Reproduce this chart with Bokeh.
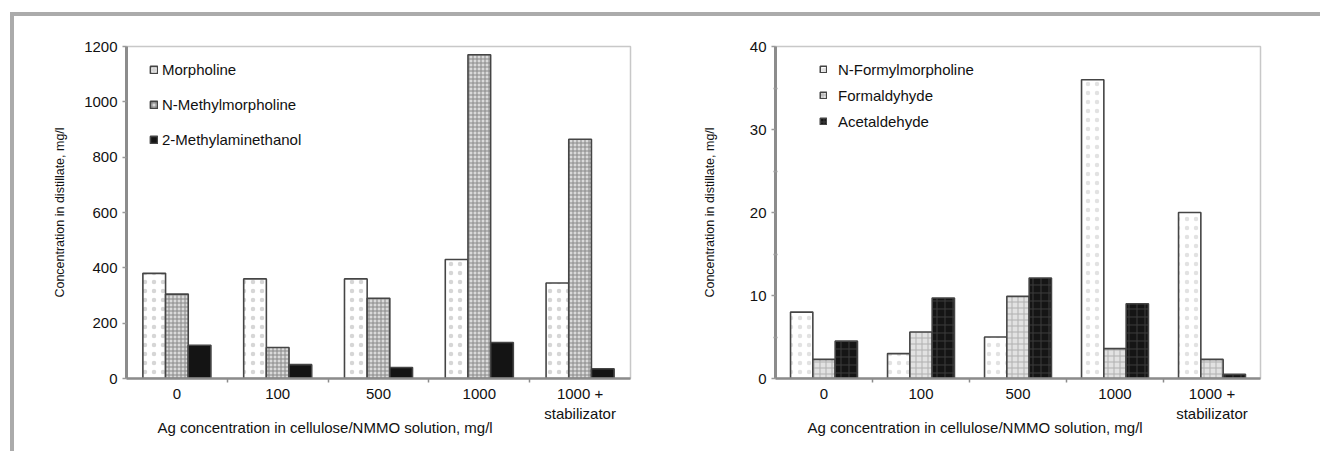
from bokeh.plotting import figure
from bokeh.models import Range1d, FixedTicker, Legend, LegendItem, Title, ColumnDataSource, Div
from bokeh.layouts import row, column
from bokeh.transform import dodge
from bokeh.embed import file_html
from bokeh.resources import INLINE

# ---------------- data ----------------
categories = ["0", "100", "500", "1000", "1000 +\nstabilizator"]

left_series = ["Morpholine", "N-Methylmorpholine", "2-Methylaminethanol"]
morpholine = [380, 360, 360, 430, 345]
n_methylmorpholine = [305, 112, 290, 1170, 865]
methylaminethanol = [120, 50, 40, 130, 35]
left_yticks = [0, 200, 400, 600, 800, 1000, 1200]

right_series = ["N-Formylmorpholine", "Formaldyhyde", "Acetaldehyde"]
n_formylmorpholine = [8.0, 3.0, 5.0, 36.0, 20.0]
formaldyhyde = [2.3, 5.6, 9.9, 3.6, 2.3]
acetaldehyde = [4.5, 9.7, 12.1, 9.0, 0.5]
right_yticks = [0, 10, 20, 30, 40]
right_yminor = [5, 15, 25, 35]

y_label = "Concentration in distillate, mg/l"
x_label = "Ag concentration in cellulose/NMMO solution, mg/l"

FONT = "Liberation Sans"
FRAME_GRAY = "#ababab"
H = 435

left_styles = [
    dict(fill_color="white", hatch_pattern="dot", hatch_color="#d6d6d6", hatch_scale=9, hatch_weight=1),
    dict(fill_color="#dadada", hatch_pattern="cross", hatch_color="#888888", hatch_scale=4, hatch_weight=1),
    dict(fill_color="#141414"),
]
right_styles = [
    dict(fill_color="white", hatch_pattern="dot", hatch_color="#e2e2e2", hatch_scale=9, hatch_weight=1),
    dict(fill_color="#e2e2e2", hatch_pattern="cross", hatch_color="#b0b0b0", hatch_scale=6, hatch_weight=1),
    dict(fill_color="#151515", hatch_pattern="cross", hatch_color="#3c3c3c", hatch_scale=8, hatch_weight=1),
]


def make_chart(series_names, series_values, styles, ymax, yticks, yminor, width,
               mb_left, mb_right, mb_top, frame_h, bar_w, legend_loc, legend_spacing,
               glyph_size, label_standoff, ylabel_standoff, xlabel_offset):
    pos = [i + 0.5 for i in range(len(categories))]
    data = dict(pos=pos)
    for k, vals in enumerate(series_values):
        data["s%d" % k] = vals
    src = ColumnDataSource(data)

    p = figure(width=width, height=H, output_backend="svg", toolbar_location=None,
               x_range=Range1d(0, len(categories)), y_range=Range1d(0, ymax),
               min_border_left=mb_left, min_border_right=mb_right,
               min_border_top=mb_top, min_border_bottom=H - mb_top - frame_h,
               sizing_mode="fixed", margin=0)
    p.xgrid.visible = False
    p.ygrid.visible = False
    p.outline_line_color = "#c8c8c8"
    p.outline_line_width = 1.5
    p.background_fill_color = "white"
    p.border_fill_color = "white"

    offsets = [-bar_w, 0.0, bar_w]
    items = []
    for k, name in enumerate(series_names):
        r = p.vbar(x=dodge("pos", offsets[k], range=p.x_range), top="s%d" % k, bottom=0,
                   width=bar_w, source=src, line_color="#454545", line_width=1.6,
                   **styles[k])
        items.append(LegendItem(label=name, renderers=[r]))

    legend = Legend(items=items, location=legend_loc, padding=0, spacing=legend_spacing,
                    label_height=20, glyph_width=glyph_size, glyph_height=glyph_size,
                    label_standoff=label_standoff, border_line_color=None,
                    background_fill_alpha=0, label_text_font=FONT,
                    label_text_font_size="15px", label_text_color="#111111", margin=0)
    p.add_layout(legend)

    # x axis: labels at category centres, small ticks on category boundaries
    xa = p.xaxis[0]
    xa.ticker = FixedTicker(ticks=pos, minor_ticks=list(range(1, len(categories))))
    xa.major_label_overrides = {pos[i]: c for i, c in enumerate(categories)}
    xa.major_tick_line_color = None
    xa.major_tick_out = 0
    xa.major_tick_in = 0
    xa.minor_tick_line_color = "#8c8c8c"
    xa.minor_tick_line_width = 1.5
    xa.minor_tick_out = 4
    xa.minor_tick_in = 0
    xa.major_label_standoff = 2
    xa.axis_line_color = "#8c8c8c"
    xa.axis_line_width = 2.5
    xa.major_label_text_font = FONT
    xa.major_label_text_font_size = "15px"
    xa.major_label_text_color = "#111111"

    ya = p.yaxis[0]
    ya.ticker = FixedTicker(ticks=yticks, minor_ticks=yminor)
    ya.axis_line_color = "#8c8c8c"
    ya.axis_line_width = 3
    ya.major_tick_line_color = "#9a9a9a"
    ya.major_tick_line_width = 1.5
    ya.major_tick_out = 4
    ya.major_tick_in = 0
    ya.minor_tick_line_color = "#9a9a9a"
    ya.minor_tick_line_width = 1.5
    ya.minor_tick_out = 2
    ya.minor_tick_in = 2
    ya.major_label_standoff = 5
    ya.major_label_text_font = FONT
    ya.major_label_text_font_size = "15px"
    ya.major_label_text_color = "#111111"
    ya.axis_label = y_label
    ya.axis_label_text_font = FONT
    ya.axis_label_text_font_size = "12.5px"
    ya.axis_label_text_font_style = "normal"
    ya.axis_label_text_color = "#111111"
    ya.axis_label_standoff = ylabel_standoff

    # x-axis title, left-aligned a little inside the frame (as in the original)
    p.add_layout(Title(text=x_label, align="left", offset=xlabel_offset,
                       text_font=FONT, text_font_size="15px", text_font_style="normal",
                       text_color="#111111", standoff=-22), "below")
    return p


p1 = make_chart(left_series, [morpholine, n_methylmorpholine, methylaminethanol], left_styles,
                1200, left_yticks, [], 646, 112, 30, 30, 332, 0.225, (23, 229), 15, 9, 4, 14, 31)
p2 = make_chart(right_series, [n_formylmorpholine, formaldyhyde, acetaldehyde], right_styles,
                40, right_yticks, right_yminor, 648, 115, 48, 27, 335, 0.23, (44, 247), 6, 8, 11, 30, 32)

top_line = Div(text="", width=1310, height=4, margin=(12, 0, 0, 10), sizing_mode="fixed",
               styles={"background-color": FRAME_GRAY})
left_line = Div(text="", width=4, height=H, margin=(0, 0, 0, 10), sizing_mode="fixed",
                styles={"background-color": FRAME_GRAY})

layout = column(top_line, row(left_line, p1, p2, margin=0, spacing=0), margin=0, spacing=0)

open("out.html", "w").write(file_html(layout, INLINE))
